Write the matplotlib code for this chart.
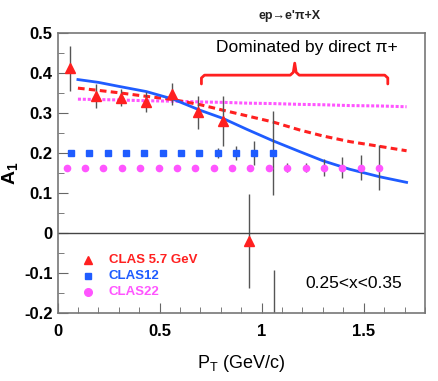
import numpy as np
import matplotlib
matplotlib.use("Agg")
import matplotlib.pyplot as plt
from matplotlib.ticker import MultipleLocator

plt.rcParams['font.family'] = ['Liberation Sans', 'DejaVu Sans']

# CLAS 5.7 GeV (red triangles)
pt_57 = [0.06, 0.187, 0.31, 0.435, 0.563, 0.688, 0.81, 0.938, 1.06]
a1_57 = [0.412, 0.342, 0.339, 0.328, 0.348, 0.302, 0.28, -0.02, -0.35]
err_57 = [0.057, 0.03, 0.022, 0.025, 0.028, 0.042, 0.063, 0.117, 0.257]

# CLAS12 projection (blue squares)
pt_12 = [0.065, 0.155, 0.245, 0.335, 0.425, 0.515, 0.605, 0.695, 0.785, 0.875, 0.965, 1.055]
a1_12 = [0.2] * 12
err_12 = [0, 0, 0, 0, 0, 0, 0, 0.003, 0.012, 0.018, 0.03, 0.105]

# CLAS22 projection (magenta circles)
pt_22 = [0.045, 0.135, 0.225, 0.315, 0.405, 0.495, 0.585, 0.675, 0.765,
         0.855, 0.945, 1.035, 1.125, 1.215, 1.305, 1.395, 1.485, 1.575]
a1_22 = [0.164] * 18
err_22 = [0, 0, 0, 0, 0, 0, 0, 0, 0, 0, 0, 0, 0.011, 0.012, 0.022, 0.026, 0.032, 0.056]

# theory curves
curve_x = [0.1, 0.2, 0.3, 0.435, 0.566, 0.7, 0.81, 0.93, 1.055, 1.186, 1.3, 1.43, 1.578, 1.71]
blue_y = [0.384, 0.377, 0.367, 0.354, 0.335, 0.307, 0.287, 0.259, 0.231, 0.204, 0.181, 0.16, 0.141, 0.127]
red_y = [0.3625, 0.357, 0.351, 0.342, 0.334, 0.321, 0.3075, 0.293, 0.278, 0.258, 0.243, 0.229, 0.217, 0.206]
mag_y = [0.335, 0.334, 0.333, 0.331, 0.330, 0.328, 0.327, 0.325, 0.324, 0.322, 0.321, 0.319, 0.318, 0.316]

red = '#ff2020'
blue = '#1f5cff'
mag = '#ff55ff'
ecol = '#555555'

fig = plt.figure(figsize=(4.39, 3.81), dpi=100)
ax = fig.add_axes([0.131, 0.178, 0.837, 0.735])

ax.plot(curve_x, mag_y, color=mag, lw=2.2, ls=(0, (1, 0.6)))
ax.plot(curve_x, red_y, color=red, lw=2.2, ls=(0, (2.2, 1.4)))
ax.plot(curve_x, blue_y, color=blue, lw=2.0)

ax.errorbar(pt_22, a1_22, yerr=err_22, fmt='o', ms=4.5, color=mag, ecolor=ecol, elinewidth=1, capsize=0)
ax.errorbar(pt_12, a1_12, yerr=err_12, fmt='s', ms=4, color=blue, ecolor=ecol, elinewidth=1, capsize=0)
ax.errorbar(pt_57, a1_57, yerr=err_57, fmt='^', ms=7, color=red, ecolor=ecol, elinewidth=1, capsize=0)

ax.axhline(0, color='#444444', lw=1)

# bracket
bx = [0.705, 0.705, 0.72, 1.14, 1.155, 1.162, 1.169, 1.184, 1.603, 1.618, 1.618]
by = [0.373, 0.388, 0.395, 0.395, 0.402, 0.425, 0.402, 0.395, 0.395, 0.388, 0.373]
ax.plot(bx, by, color=red, lw=2, solid_joinstyle='round', solid_capstyle='round')

ax.text(1.223, 0.465, 'Dominated by direct \u03c0+', fontsize=12.5, ha='center', va='center')
ax.text(0.632, 1.063, "ep\u2192e'\u03c0+X", transform=ax.transAxes,
        fontsize=9, fontweight='bold', ha='center', va='center', color='#222222')
ax.text(1.45, -0.127, '0.25<x<0.35', fontsize=12.5, ha='center', va='center')

# legend
leg = [('^', red, 'CLAS 5.7 GeV', 5.5), ('s', blue, 'CLAS12', 5), ('o', mag, 'CLAS22', 5.5)]
for i, (m, c, lab, s) in enumerate(leg):
    yy = -0.0675 - 0.0402 * i
    ax.plot([0.148], [yy], marker=m, color=c, ms=s, ls='none')
    ax.text(0.25, yy, lab, color=c, fontsize=9.5, fontweight='bold', va='center', ha='left')

ax.set_xlim(0, 1.8)
ax.set_ylim(-0.2, 0.5)
ax.xaxis.set_major_locator(MultipleLocator(0.5))
ax.xaxis.set_minor_locator(MultipleLocator(0.1))
ax.yaxis.set_major_locator(MultipleLocator(0.1))
ax.yaxis.set_minor_locator(MultipleLocator(0.05))
ax.tick_params(which='both', direction='in', top=False, right=False, color='#666666')
ax.tick_params(which='major', length=7, labelsize=12)
ax.tick_params(which='minor', length=4)
ax.xaxis.set_major_formatter(plt.FuncFormatter(lambda v, p: '%g' % v))
ax.yaxis.set_major_formatter(plt.FuncFormatter(lambda v, p: '0' if abs(v) < 1e-9 else '%g' % v))
for lab in ax.get_xticklabels() + ax.get_yticklabels():
    lab.set_fontweight('bold')
ax.tick_params(axis='x', pad=8)
for sp in ax.spines.values():
    sp.set_color('#777777')
    sp.set_linewidth(1.2)

ax.set_xlabel('P$_\\mathregular{T}$ (GeV/c)', fontsize=13, labelpad=10)
ax.set_ylabel('A$_\\mathregular{1}$', fontsize=14, fontweight='bold', labelpad=2)

fig.savefig('out.png', dpi=100)
